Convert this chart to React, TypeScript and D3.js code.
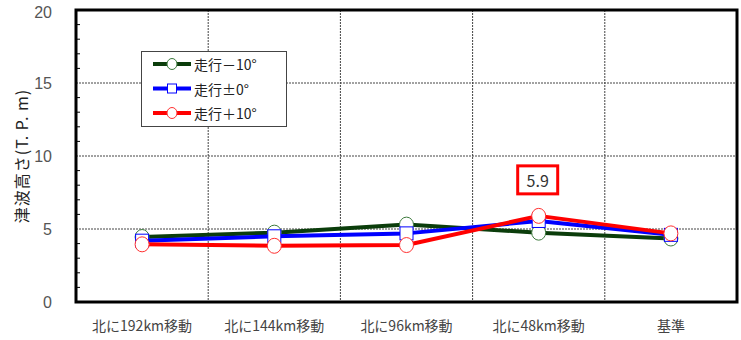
import React from 'react';
import * as d3 from 'd3';

const categories = ['北に192km移動', '北に144km移動', '北に96km移動', '北に48km移動', '基準'];
const seriesMinus10 = [4.45, 4.75, 5.3, 4.75, 4.35];
const seriesZero = [4.2, 4.5, 4.7, 5.55, 4.6];
const seriesPlus10 = [3.95, 3.85, 3.9, 5.9, 4.7];
const yTicks = [0, 5, 10, 15, 20];
const legendLabels = ['走行－10°', '走行±0°', '走行＋10°'];
const annotation = { index: 3, label: '5.9' };

const W = 741;
const H = 340;
const margin = { top: 10, right: 4, bottom: 38, left: 76 };
const FONT = '"Noto Sans CJK JP", "DejaVu Sans", sans-serif';
const NUM_FONT = '"Liberation Sans", Arial, sans-serif';

const series = [
  { name: legendLabels[0], values: seriesMinus10, color: '#0b3d0b', markerStroke: '#3d7a3d', marker: 'circle' },
  { name: legendLabels[1], values: seriesZero, color: '#0000ff', markerStroke: '#0000ff', marker: 'square' },
  { name: legendLabels[2], values: seriesPlus10, color: '#ff0000', markerStroke: '#ff3030', marker: 'circle' },
];

const Marker: React.FC<{ kind: string; x: number; y: number; stroke: string; size?: number }> = ({ kind, x, y, stroke, size = 7 }) =>
  kind === 'square' ? (
    <rect x={x - size + 0.5} y={y - size + 0.5} width={size * 2 - 1} height={size * 2 - 1} fill="#fff" stroke={stroke} strokeWidth={1} />
  ) : (
    <ellipse cx={x} cy={y} rx={size} ry={size + 0.5} fill="#fff" stroke={stroke} strokeWidth={1} />
  );

const App: React.FC = () => {
  const x = d3.scaleBand().domain(categories).range([margin.left, W - margin.right]);
  const y = d3.scaleLinear().domain([0, 20]).range([H - margin.bottom, margin.top]);
  const cx = (c: string) => (x(c) ?? 0) + x.bandwidth() / 2;
  const line = d3.line<number>().x((_, i) => cx(categories[i])).y(d => y(d));
  const minorTicks = d3.range(0, 21, 1).filter(v => v % 5 !== 0);

  const ax = cx(categories[annotation.index]);
  const ay = y(seriesPlus10[annotation.index]) - 36;

  return (
    <svg width={W} height={H} style={{ position: 'absolute', left: 0, top: 0, fontFamily: FONT }}>
      <rect width={W} height={H} fill="#fff" />
      {/* grid */}
      {yTicks.slice(1, -1).map(t => (
        <line key={t} x1={margin.left} x2={W - margin.right} y1={y(t)} y2={y(t)} stroke="#444" strokeWidth={1} strokeDasharray="2,1" />
      ))}
      {categories.slice(1).map(c => (
        <line key={c} x1={x(c)} x2={x(c)} y1={margin.top} y2={H - margin.bottom} stroke="#444" strokeWidth={1} strokeDasharray="2,1" />
      ))}
      {minorTicks.map(t => (
        <line key={t} x1={margin.left} x2={margin.left + 4} y1={y(t)} y2={y(t)} stroke="#000" />
      ))}
      {/* series */}
      {series.map(s => (
        <g key={s.name}>
          <path d={line(s.values) ?? ''} fill="none" stroke={s.color} strokeWidth={4} strokeLinejoin="round" />
          {s.values.map((v, i) => (
            <Marker key={i} kind={s.marker} x={cx(categories[i])} y={y(v)} stroke={s.markerStroke} />
          ))}
        </g>
      ))}
      {/* frame */}
      <rect x={margin.left} y={margin.top} width={W - margin.right - margin.left} height={H - margin.bottom - margin.top} fill="none" stroke="#000" strokeWidth={3} />
      {/* y axis labels */}
      {yTicks.map(t => (
        <text key={t} x={margin.left - 24} y={Math.max(y(t) + 6, 18)} textAnchor="end" fontFamily={NUM_FONT} fontSize={16} fill="#555">{t}</text>
      ))}
      <text transform={`translate(21,${(margin.top + H - margin.bottom) / 2}) rotate(-90)`} textAnchor="middle" dominantBaseline="central" fontSize={16} letterSpacing={1} fill="#222">津波高さ(T. P. m)</text>
      {/* x labels */}
      {categories.map(c => (
        <text key={c} x={cx(c)} y={325} textAnchor="middle" dominantBaseline="central" fontSize={14} fill="#444">{c}</text>
      ))}
      {/* legend */}
      <rect x={141.5} y={51.5} width={145} height={75} fill="#fff" stroke="#444" strokeWidth={1} />
      {series.map((s, i) => {
        const ly = 64 + i * 24.5;
        return (
          <g key={s.name}>
            <line x1={153} x2={191} y1={ly} y2={ly} stroke={s.color} strokeWidth={4} />
            <Marker kind={s.marker} x={172} y={ly} stroke={s.markerStroke} size={5} />
            <text x={194} y={ly} dominantBaseline="central" fontSize={14} fill="#222">{s.name}</text>
          </g>
        );
      })}
      {/* annotation */}
      <rect x={ax - 21} y={ay - 14} width={40} height={28} fill="#fff" stroke="#ff0000" strokeWidth={3} />
      <text x={ax - 1} y={ay} textAnchor="middle" dominantBaseline="central" fontSize={16} fill="#333">{annotation.label}</text>
    </svg>
  );
};

export default App;
